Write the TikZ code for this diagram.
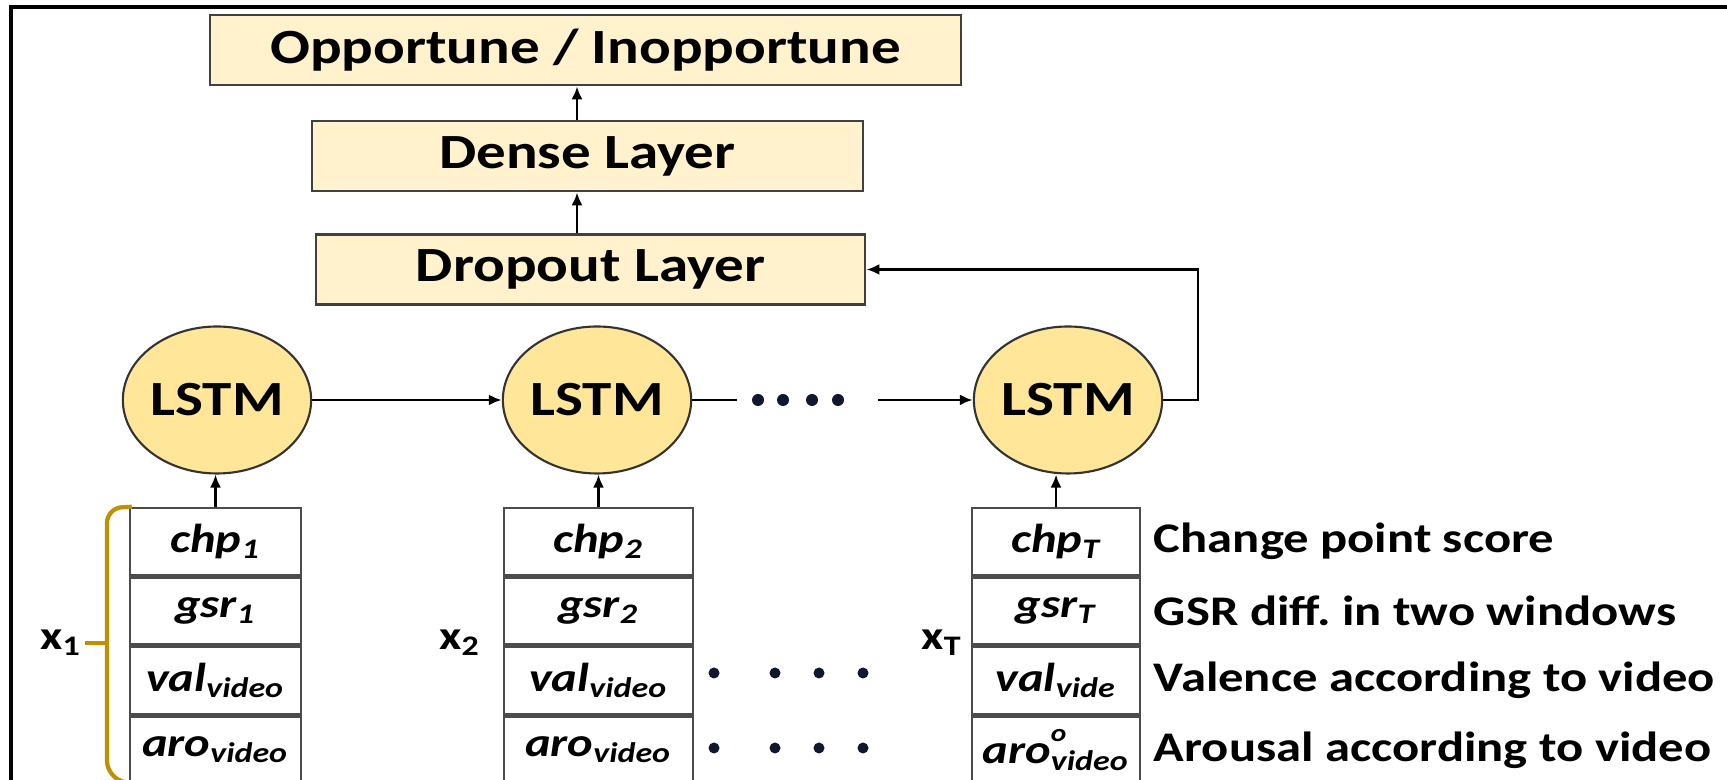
\documentclass[tikz,border=0pt]{standalone}
\usepackage{fontspec}
\setmainfont{Carlito}[FakeStretch=1.2]
\usetikzlibrary{shapes.geometric}
\usetikzlibrary{arrows.meta}
\usetikzlibrary{positioning}

\definecolor{layerfill}{RGB}{255,242,204}
\definecolor{lstmfill}{RGB}{255,230,153}
\definecolor{bracegold}{RGB}{191,144,0}
\definecolor{dotblue}{RGB}{16,24,48}

\newcommand{\feat}[2]{#1\textsubscript{#2}}

\tikzset{
  layer/.style={draw=black!75, fill=layerfill, line width=0.8pt, minimum height=0.7cm, font=\fontsize{14}{16}\selectfont\bfseries},
  lstm/.style={ellipse, draw=black!80, fill=lstmfill, line width=0.6pt, minimum width=1.88cm, minimum height=1.47cm, inner sep=0pt, font=\fontsize{14}{16}\selectfont\bfseries},
  cell/.style={draw=black!70, line width=0.7pt, minimum height=0.67cm, inner sep=0pt, font=\fontsize{11.5}{13}\selectfont\bfseries\itshape},
  desc/.style={inner sep=0pt, font=\fontsize{12}{14}\selectfont\bfseries},
  xlab/.style={font=\fontsize{11.5}{13}\selectfont\bfseries},
  link/.style={line width=0.7pt, -{Latex[length=1.3mm,width=1.1mm]}},
}

\begin{document}
\begin{tikzpicture}

\useasboundingbox (0,0) rectangle (17.27,7.80);

% frame
\draw[line width=1pt] (0.11,0) -- (0.11,7.73) -- (17.27,7.73);

% output layers
\node[layer, minimum width=7.51cm] (out) at (5.855,7.30) {Opportune / Inopportune};
\node[layer, minimum width=5.51cm] (dense) at (5.875,6.24) {Dense Layer};
\node[layer, minimum width=5.49cm] (drop) at (5.905,5.105) {Dropout Layer};

\coordinate (ax) at (5.77,0);
\draw[link] (drop.north -| ax) -- (dense.south -| ax);
\draw[link] (dense.north -| ax) -- (out.south -| ax);

% LSTM chain
\node[lstm] (l1) at (2.17,3.80) {LSTM};
\node[lstm] (l2) at (5.97,3.80) {LSTM};
\node[lstm] (l3) at (10.68,3.80) {LSTM};

\coordinate (g1) at (7.37,3.80);
\coordinate (g2) at (8.78,3.80);
\coordinate (fb) at (11.98,3.80);

\draw[link] (l1) -- (l2);
\draw[line width=0.7pt] (l2) -- (g1);
\foreach \x in {7.58,7.83,8.12,8.38}
  \fill[dotblue] (\x,3.80) circle (0.6mm);
\draw[link] (g2) -- (l3);
\draw[link] (l3.east) -- (fb) |- (drop.east);

% inputs x_1
\node[cell, minimum width=1.71cm] (s1a) at (2.155,2.385) {\feat{chp}{1}};
\node[cell, minimum width=1.71cm, below=0pt of s1a] (s1b) {\feat{gsr}{1}};
\node[cell, minimum width=1.71cm, below=0pt of s1b] (s1c) {\feat{val}{video}};
\node[cell, minimum width=1.71cm, below=0pt of s1c] (s1d) {\feat{aro}{video}};

% inputs x_2
\node[cell, minimum width=1.89cm] (s2a) at (5.985,2.385) {\feat{chp}{2}};
\node[cell, minimum width=1.89cm, below=0pt of s2a] (s2b) {\feat{gsr}{2}};
\node[cell, minimum width=1.89cm, below=0pt of s2b] (s2c) {\feat{val}{video}};
\node[cell, minimum width=1.89cm, below=0pt of s2c] (s2d) {\feat{aro}{video}};

% inputs x_T
\node[cell, minimum width=1.68cm] (s3a) at (10.56,2.385) {\feat{chp}{T}};
\node[cell, minimum width=1.68cm, below=0pt of s3a] (s3b) {\feat{gsr}{T}};
\node[cell, minimum width=1.68cm, below=0pt of s3b] (s3c) {\feat{val}{vide}};
\node[cell, minimum width=1.68cm, below=0pt of s3c] (s3d) {aro\rlap{\raisebox{0.55em}{\scriptsize o}}\textsubscript{video}};

\draw[link] (s1a.north) -- (s1a.north |- l1.south);
\draw[link] (s2a.north) -- (s2a.north |- l2.south);
\draw[link] (s3a.north) -- (s3a.north |- l3.south);

% brace and labels
\draw[bracegold, line width=1.2pt, rounded corners=1.5mm]
  ([xshift=0.03cm]s1a.north west) -- (1.07,2.72) -- (1.07,0.04) -- ([xshift=0.03cm]s1d.south west);
\draw[bracegold, line width=1.2pt] (1.07,1.37) -- (0.85,1.37);

\node[xlab] (x1) at (0.61,1.37) {x\textsubscript{1}};
\node[xlab] (x2) at (4.60,1.37) {x\textsubscript{2}};
\node[xlab] (xT) at (9.42,1.37) {x\textsubscript{T}};

\foreach \x in {7.14,7.75,8.19,8.63} {
  \fill[dotblue] (\x,1.07) circle (0.55mm);
  \fill[dotblue] (\x,0.32) circle (0.55mm);
}

% descriptions
\node[desc, right=0.12cm of s3a] (d1) {Change point score};
\node[desc, right=0.12cm of s3b] (d2) {GSR diff.\ in two windows};
\node[desc, right=0.12cm of s3c] (d3) {Valence according to video};
\node[desc, right=0.12cm of s3d] (d4) {Arousal according to video};

\end{tikzpicture}
\end{document}
